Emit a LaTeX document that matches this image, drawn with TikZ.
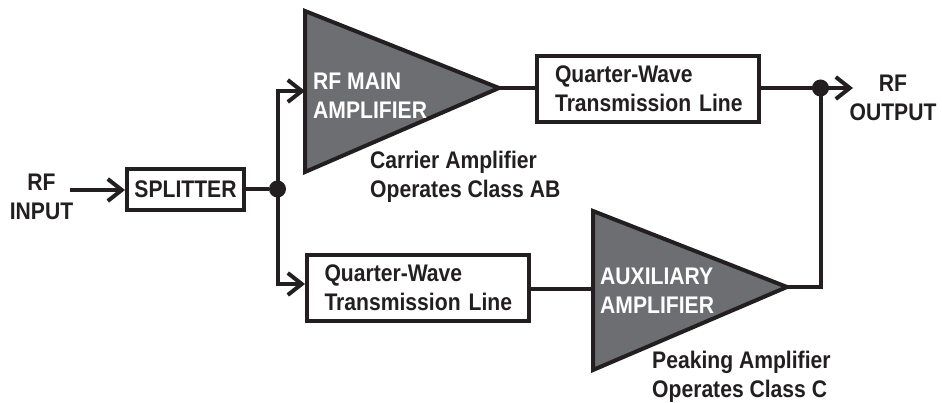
\documentclass[tikz,border=0pt]{standalone}
\usepackage{fontspec}
\setmainfont[FakeStretch=0.88]{Liberation Sans}
\usetikzlibrary{arrows.meta}
\definecolor{ink}{HTML}{231F20}
\definecolor{ampgrey}{HTML}{6D6E71}
\tikzset{
 txt/.style={font=\fontsize{24}{29}\bfseries\selectfont},
 wire/.style={line width=4pt,ink},
 arrowwire/.style={wire,-{Straight Barb[length=14pt,width=22pt,line width=4pt]}},
 boxn/.style={draw=ink,line width=4pt,fill=white,inner sep=0pt,txt,text=ink},
 lineb/.style={boxn,align=left,minimum width=222pt,text width=186pt},
 amp/.style={fill=ampgrey,draw=ink,line width=4pt,line join=miter},
 lab/.style={align=center,txt,text=ink,inner sep=0pt},
 capt/.style={align=left,anchor=west,txt,text=ink,inner sep=0pt},
 ampl/.style={align=left,anchor=west,txt,text=white,inner sep=0pt},
 dotn/.style={circle,fill=ink,minimum size=17pt,inner sep=0pt},
}
\begin{document}
\begin{tikzpicture}[x=1pt,y=-1pt]
\useasboundingbox (0,0) rectangle (942,403);
\coordinate (inS) at (70,190);
\node[lab] (rfin) at (41.5,197) {RF\\INPUT};
\node[boxn,minimum width=117pt,minimum height=41pt] (split) at (185.5,189.5) {SPLITTER};
\node[dotn] (d1) at (277.5,189) {};
\coordinate (m) at (499,88);
\coordinate (mi) at (305,91);
\coordinate (a) at (787,287);
\coordinate (ai) at (593,289);
\coordinate (q2in) at (305,284);
\coordinate (o) at (853,88);
\node[lineb,minimum height=66pt] (q1) at (648,89) {Quarter-Wave\\\mbox{Transmission Line}};
\node[lineb,minimum height=65pt] (q2) at (417.5,288) {Quarter-Wave\\\mbox{Transmission Line}};
\node[dotn] (d2) at (820.5,88) {};
\node[lab] (rfout) at (893,97.5) {RF\\OUTPUT};
\node[capt] (c1) at (370,176.5) {Carrier Amplifier\\Operates Class AB};
\node[capt] (c2) at (652,376.5) {Peaking Amplifier\\Operates Class C};
\draw[arrowwire] (inS) -- (inS -| split.west);
\draw[wire] (split.east |- d1) -- (d1);
\draw[arrowwire] (d1.center) |- (q2in);
\draw[arrowwire] (d1.center) |- (mi);
\draw[wire] (m) -- (m -| q1.west);
\draw[arrowwire] (q1.west -| q1.east) ++(0,-1) -- (o);
\draw[wire] (ai -| q2.east) -- (ai);
\draw[wire] (a) -| (d2.center);
\draw[amp] (305,11) -- (m) -- (305,172) -- cycle;
\draw[amp] (593,211) -- (a) -- (593,370) -- cycle;
\node[ampl] (ml) at (313,96) {RF MAIN\\AMPLIFIER};
\node[ampl] (al) at (600,290.5) {AUXILIARY\\AMPLIFIER};
\end{tikzpicture}
\end{document}
